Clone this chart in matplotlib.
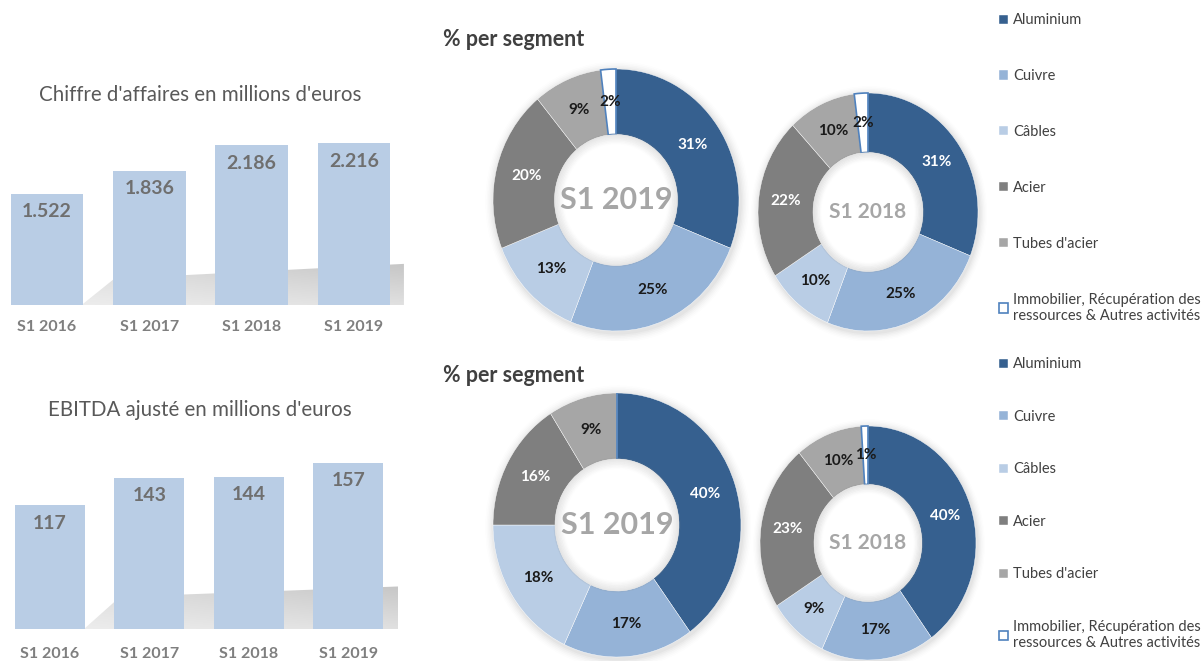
import matplotlib
matplotlib.use("Agg")
import matplotlib.pyplot as plt
import numpy as np
from matplotlib.patches import Polygon, Ellipse

plt.rcParams['font.family'] = ['Lato', 'DejaVu Sans']

# --- data ---
periods = ['S1 2016', 'S1 2017', 'S1 2018', 'S1 2019']
revenue = [1522, 1836, 2186, 2216]
revenue_labels = ['1.522', '1.836', '2.186', '2.216']
ebitda = [117, 143, 144, 157]

segments = ['Aluminium', 'Cuivre', 'Câbles', 'Acier', "Tubes d'acier",
            'Immobilier, Récupération des\nressources & Autres activités']
rev_share_2019 = [31, 25, 13, 20, 9, 2]
rev_share_2018 = [31, 25, 10, 22, 10, 2]
ebitda_share_2019 = [40, 17, 18, 16, 9, 0]
ebitda_share_2018 = [40, 17, 9, 23, 10, 1]

seg_colors = ['#36608f', '#95b3d7', '#b9cde5', '#7f7f7f', '#a6a6a6', 'white']
label_colors = ['white', '#1a1a1a', '#1a1a1a', 'white', '#1a1a1a', '#1a1a1a']

W, H = 1203, 661
fig = plt.figure(figsize=(W / 100, H / 100), dpi=100)


def px_axes(x0, y0, x1, y1):
    return fig.add_axes([x0 / W, 1 - y1 / H, (x1 - x0) / W, (y1 - y0) / H])


def bar_panel(box, values, labels, xlim, top, width, shadow, pad):
    ax = px_axes(*box)
    ax.set_xlim(*xlim)
    ax.set_ylim(0, top)
    # soft floor shadow behind the bars
    xs = np.linspace(0, 1, 300)
    ys = np.linspace(1, 0, 150)
    X, Y = np.meshgrid(xs, ys)
    d = 0.22 * (0.5 + 0.5 * X) * np.clip(0.55 + 0.45 * Y / 0.22, 0, 1)
    img = np.dstack([1 - d] * 3)
    im = ax.imshow(img, extent=[0, 1, 0, 1], transform=ax.transAxes,
                   aspect='auto', zorder=0, origin='upper')
    poly = Polygon(shadow, closed=True, transform=ax.transAxes, facecolor='none',
                   edgecolor='none')
    ax.add_patch(poly)
    im.set_clip_path(poly)
    x = np.arange(len(values))
    ax.bar(x, values, width=width, color='#b9cde5', zorder=2)
    for xi, v, lab in zip(x, values, labels):
        ax.annotate(lab, (xi, v), xytext=(0, -18), textcoords='offset pixels',
                    ha='center', va='center', fontsize=14, fontweight='bold',
                    color='#6f6f6f', zorder=3)
    ax.set_xticks(x, periods)
    ax.tick_params(axis='x', length=0, pad=pad, labelsize=11.5, labelcolor='#7f7f7f')
    for t in ax.get_xticklabels():
        t.set_fontweight('bold')
    ax.set_yticks([])
    for s in ax.spines.values():
        s.set_visible(False)
    return ax


# top bar chart
fig.text(200 / W, 1 - 95 / H, "Chiffre d'affaires en millions d'euros", ha='center',
         va='center', fontsize=14.8, color='#595959')
bar_panel((0, 130, 408, 305), revenue, revenue_labels, (-0.46, 3.53),
          max(revenue) * 175 / 162, 0.71,
          [(0.2, 0.0), (0.28, 0.15), (0.99, 0.235), (0.99, 0.0)], 11)

# bottom bar chart
fig.text(200 / W, 1 - 410 / H, "EBITDA ajusté en millions d'euros", ha='center',
         va='center', fontsize=14.8, color='#595959')
bar_panel((0, 440, 400, 629), ebitda, [str(v) for v in ebitda], (-0.503, 3.52),
          max(ebitda) * 189 / 166, 0.705,
          [(0.21, 0.0), (0.30, 0.17), (0.995, 0.225), (0.995, 0.0)], 13)


def donut(cx, cy, rx, ry, shares, center_text, center_size):
    k = 1.08
    ax = px_axes(cx - k * rx, cy - k * ry, cx + k * rx, cy + k * ry)
    # faint outer shadow
    for i, a in enumerate(np.linspace(0.05, 0.01, 6)):
        r = 1.0 + 0.012 * (i + 1)
        ax.add_patch(Ellipse((0.01, -0.015), 2 * r, 2 * r, color='#7f7f7f',
                             alpha=a, lw=0, zorder=0))
    wedges, _ = ax.pie(shares, colors=seg_colors, startangle=90, counterclock=False,
                       radius=1.0, wedgeprops=dict(width=0.5, linewidth=0.3,
                                                   edgecolor='white'))
    wedges[-1].set_edgecolor('#4f81bd')
    wedges[-1].set_linewidth(1.2)
    wedges[-1].set_zorder(3)
    # white hole with a soft inner shadow
    ax.add_patch(Ellipse((0, 0), 1.0, 1.0, facecolor='white', edgecolor='none',
                         zorder=3.5))
    for i, a in enumerate(np.linspace(0.12, 0.01, 7)):
        r = 0.5 - 0.011 * i
        ax.add_patch(Ellipse((0, 0), 2 * r, 2 * r, facecolor='none',
                             edgecolor='#8c8c8c', alpha=a, lw=2, zorder=4))
    ax.set_aspect('auto')
    ax.set_xlim(-k, k)
    ax.set_ylim(-k, k)
    total = sum(shares)
    start = 90.0
    for v, col in zip(shares, label_colors):
        if v == 0:
            continue
        mid = np.deg2rad(start - 360 * v / total / 2)
        start -= 360 * v / total
        ax.text(0.75 * np.cos(mid), 0.75 * np.sin(mid), f'{v}%', ha='center',
                va='center', fontsize=11, fontweight='bold', color=col, zorder=5)
    ax.text(0, 0, center_text, ha='center', va='center', fontsize=center_size,
            fontweight='bold', color='#a6a6a6', zorder=5)
    return wedges


fig.text(443 / W, 1 - 40 / H, '% per segment', ha='left', va='center', fontsize=15.5,
         fontweight='bold', color='#404040')
fig.text(443 / W, 1 - 376 / H, '% per segment', ha='left', va='center', fontsize=15.5,
         fontweight='bold', color='#404040')

w_top = donut(616, 200, 123, 131, rev_share_2019, 'S1 2019', 22)
donut(868, 212, 110, 119, rev_share_2018, 'S1 2018', 15)
w_bot = donut(617, 525, 124, 132, ebitda_share_2019, 'S1 2019', 22)
donut(868, 543, 108, 117, ebitda_share_2018, 'S1 2018', 15)

for wedges, ytop, spacing in [(w_top, 6, 2.87), (w_bot, 350, 2.64)]:
    fig.legend(wedges, segments, loc='upper left',
               bbox_to_anchor=(992 / W, 1 - ytop / H), frameon=False, fontsize=10.5,
               handlelength=0.6, handleheight=0.6, handletextpad=0.35,
               labelspacing=spacing, borderpad=0, labelcolor='#404040')

fig.savefig('out.png', dpi=100, facecolor='white')
